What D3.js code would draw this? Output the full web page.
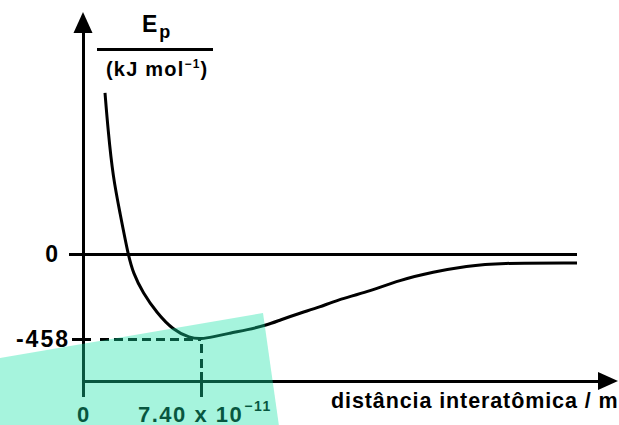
<!DOCTYPE html>
<html>
<head>
<meta charset="utf-8">
<script src="https://cdn.jsdelivr.net/npm/d3@7"></script>
<style>
  body { margin: 0; background: #ffffff; }
  svg { display: block; }
  text { font-family: "Liberation Sans", Arial, sans-serif; font-weight: bold; fill: #000; }
</style>
</head>
<body>
<div id="chart"></div>
<script>
//data (distance in units of 1e-11 m, energy in kJ/mol)
var distance = [1.38, 1.57, 1.88, 2.32, 2.82, 3.14, 3.76, 4.64, 5.64, 6.71, 7.40, 8.15, 9.22, 10.28, 11.54, 12.35, 13.61, 14.86, 15.93, 17.81, 19.88, 21.95, 24.08, 26.02, 30.98];
var energy = [868, 668, 415, 221, 0, -102, -210, -318, -409, -453, -458, -447, -426, -409, -383, -356, -318, -286, -248, -205, -140, -97, -65, -48, -48];

//tick values and labels
var yTicks = [0, -458];
var yTickLabels = ["0", "-458"];
var xTicks = [0, 7.40];
var xTickLabels = ["0", "7.40 x 10"];
var xTickExp = ["", "\u221211"];

var yTitle = "E";
var yTitleSub = "p";
var yUnit = "(kJ mol";
var yUnitExp = "\u22121";
var xTitle = "distância interatômica / m";

//setting dimensions
var width = 619, height = 425;

var svg = d3.select("#chart")
  .append("svg")
  .attr("width", width)
  .attr("height", height);

//scales
var x = d3.scaleLinear().domain([0, 7.40]).range([83, 201]);
var y = d3.scaleLinear().domain([0, -458]).range([254, 339]);

var x0 = x(0);
var xAxisY = 381;

//helper for the plain black 3px strokes
function rule(x1, y1, x2, y2, dash) {
  var l = svg.append("line")
    .attr("x1", x1).attr("x2", x2)
    .attr("y1", y1).attr("y2", y2)
    .attr("stroke", "#000").attr("stroke-width", 3)
    .attr("shape-rendering", "crispEdges");
  if (dash) l.attr("stroke-dasharray", dash);
  return l;
}

//zero line
rule(69, y(0), 577, y(0));

//y axis line + arrow
rule(x0, 397, x0, 28);
svg.append("path")
  .attr("d", "M" + x0 + ",12 L" + (x0 - 9.5) + ",33 L" + (x0 + 9.5) + ",33 Z")
  .attr("fill", "#000");

//x axis line + arrow
rule(x0, xAxisY, 604, xAxisY);
svg.append("path")
  .attr("d", "M618," + xAxisY + " L598," + (xAxisY - 9) + " L598," + (xAxisY + 9) + " Z")
  .attr("fill", "#000");

//-458 tick and dashed guides
rule(72, y(-458), 91, y(-458));
rule(100, y(-458), x(7.40), y(-458), "9,5");
rule(x(7.40), y(-458) + 5, x(7.40), 372, "9,6");
rule(x(7.40), 372, x(7.40), 397);

//potential energy curve (smoothed through the read points)
var line = d3.line()
  .x(function(d, i) { return x(distance[i]); })
  .y(function(d) { return y(d); })
  .curve(d3.curveBasis);

svg.append("path")
  .datum(energy)
  .attr("d", line)
  .attr("fill", "none")
  .attr("stroke", "#000")
  .attr("stroke-width", 3);

//y tick labels
svg.selectAll(".ylab")
  .data(yTicks)
  .enter().append("text")
  .attr("class", "ylab")
  .attr("x", function(d, i) { return i == 0 ? 60 : 70; })
  .attr("y", function(d) { return y(d) + 8; })
  .attr("text-anchor", "end")
  .style("font-size", "23px")
  .style("letter-spacing", "2px")
  .text(function(d, i) { return yTickLabels[i]; });

//x tick labels
var xl = svg.selectAll(".xlab")
  .data(xTicks)
  .enter().append("text")
  .attr("class", "xlab")
  .attr("x", function(d, i) { return i == 0 ? x(d) - 6 : 138; })
  .attr("y", 422)
  .style("font-size", "22px")
  .style("letter-spacing", "1.5px");
xl.append("tspan").text(function(d, i) { return xTickLabels[i]; });
xl.append("tspan")
  .attr("dy", -11)
  .attr("dx", 1)
  .style("font-size", "14px")
  .text(function(d, i) { return xTickExp[i]; });

//x title
svg.append("text")
  .attr("x", 331).attr("y", 408)
  .style("font-size", "21.5px")
  .style("letter-spacing", "0.9px")
  .text(xTitle);

//y title as a fraction
var t = svg.append("text").attr("x", 142).attr("y", 32).style("font-size", "23px");
t.append("tspan").text(yTitle);
t.append("tspan").attr("dy", 6).attr("dx", 2).style("font-size", "18px").text(yTitleSub);

rule(97, 49, 213, 49);

var u = svg.append("text").attr("x", 106).attr("y", 76)
  .style("font-size", "20px")
  .style("letter-spacing", "1.2px");
u.append("tspan").text(yUnit);
u.append("tspan").attr("dy", -8).style("font-size", "12px").text(yUnitExp);
u.append("tspan").attr("dy", 8).text(")");

//translucent aqua overlay
svg.append("path")
  .attr("d", "M0,358 L263,313 L279,426 L0,426 Z")
  .attr("fill", "rgb(20,225,165)")
  .attr("fill-opacity", 0.38);
</script>
</body>
</html>
